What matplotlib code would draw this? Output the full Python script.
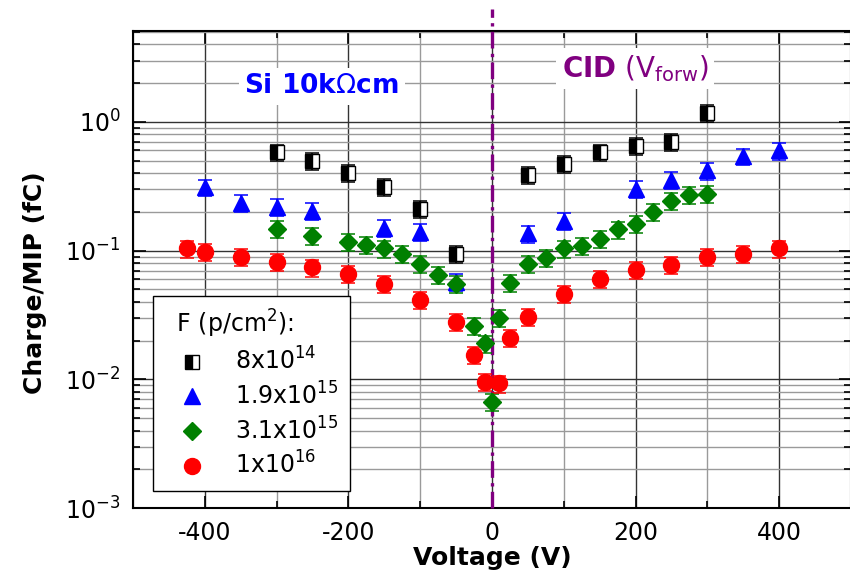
#!/usr/bin/env python3
"""Collected charge per MIP vs bias voltage, CID (forward) and reverse."""

import matplotlib
matplotlib.use("Agg")
import matplotlib.pyplot as plt
from matplotlib.ticker import LogLocator, MultipleLocator, NullFormatter

# 8x10^14 p/cm2
volt_8e14 = [-300, -250, -200, -150, -100, -50, 50, 100, 150, 200, 250, 300]
charge_8e14 = [0.58, 0.50, 0.40, 0.315, 0.21, 0.095, 0.39, 0.47, 0.58, 0.65, 0.70, 1.18]

# 1.9x10^15 p/cm2
volt_19e15 = [-400, -350, -300, -250, -150, -100, -50, 50, 100, 200, 250, 300, 350, 400]
charge_19e15 = [0.31, 0.236, 0.22, 0.205, 0.151, 0.14, 0.057, 0.136, 0.171, 0.30, 0.356,
                0.42, 0.54, 0.60]

# 3.1x10^15 p/cm2
volt_31e15 = [-300, -250, -200, -175, -150, -125, -100, -75, -50, -25, -10, 0, 10, 25,
              50, 75, 100, 125, 150, 175, 200, 225, 250, 275, 300]
charge_31e15 = [0.148, 0.131, 0.117, 0.111, 0.104, 0.095, 0.079, 0.065, 0.055, 0.026,
                0.019, 0.0067, 0.030, 0.056, 0.079, 0.088, 0.104, 0.109, 0.124, 0.146,
                0.162, 0.20, 0.245, 0.272, 0.275]

# 1x10^16 p/cm2
volt_1e16 = [-425, -400, -350, -300, -250, -200, -150, -100, -50, -25, -10, 10, 25, 50,
             100, 150, 200, 250, 300, 350, 400]
charge_1e16 = [0.104, 0.098, 0.090, 0.082, 0.074, 0.066, 0.0555, 0.0416, 0.028, 0.0156,
               0.0096, 0.0093, 0.021, 0.0307, 0.046, 0.0605, 0.071, 0.077, 0.090, 0.095,
               0.104]

labels = [r"8x10$^{14}$", r"1.9x10$^{15}$", r"3.1x10$^{15}$", r"1x10$^{16}$"]
rel_err = 0.15

plt.rcParams["font.family"] = ["DejaVu Sans"]
plt.rcParams["mathtext.fontset"] = "dejavusans"
plt.rcParams["axes.unicode_minus"] = False

PURPLE = "#800080"

fig = plt.figure(figsize=(8.5, 5.82), dpi=100)
ax = fig.add_axes([0.1565, 0.127, 0.8445, 0.82])

series = [
    (volt_8e14, charge_8e14, dict(marker="s", ms=9.5, mfc="black", mfcalt="white",
                                  mec="black", fillstyle="left", color="black")),
    (volt_19e15, charge_19e15, dict(marker="^", ms=11.5, mfc="#0000ff", mec="#0000ff",
                                    color="#0000ff")),
    (volt_31e15, charge_31e15, dict(marker="D", ms=9.5, mfc="#008000", mec="#008000",
                                    color="#008000")),
    (volt_1e16, charge_1e16, dict(marker="o", ms=11.5, mfc="#ff0000", mec="#ff0000",
                                  color="#ff0000")),
]

handles = []
for (v, q, style), lab in zip(series, labels):
    err = [c * rel_err for c in q]
    cont = ax.errorbar(v, q, yerr=err, linestyle="none", capsize=5, elinewidth=1.1,
                       capthick=1.1, label=lab, zorder=4, **style)
    handles.append(cont[0])

ax.axvline(0, ymin=0, ymax=1.045, color=PURPLE, lw=2.4, ls=(0, (5, 1.6, 1, 1.6)),
           clip_on=False, zorder=3)

ax.set_yscale("log")
ax.set_xlim(-500, 500)
ax.set_ylim(1e-3, 5.1)

ax.xaxis.set_major_locator(MultipleLocator(200))
ax.xaxis.set_minor_locator(MultipleLocator(100))
ax.yaxis.set_major_locator(LogLocator(base=10))
ax.yaxis.set_minor_locator(LogLocator(base=10, subs=range(2, 10)))
ax.yaxis.set_minor_formatter(NullFormatter())

ax.grid(True, which="major", color="#333333", lw=1.0, zorder=0)
ax.grid(True, which="minor", color="#9a9a9a", lw=1.0, zorder=0)
ax.set_axisbelow(True)

ax.tick_params(which="both", direction="in", top=True, right=True, width=1.2,
               labelsize=17, pad=9)
ax.tick_params(which="major", length=9)
ax.tick_params(which="minor", length=5)
for sp in ax.spines.values():
    sp.set_linewidth(1.5)

ax.set_xlabel("Voltage (V)", fontsize=18, fontweight="bold", labelpad=1)
ax.set_ylabel("Charge/MIP (fC)", fontsize=18, fontweight="bold")
ax.yaxis.set_label_coords(-0.12, 0.472)

ax.text(-237, 1.9, r"Si 10k$\Omega$cm", color="#0000ff", fontsize=19, fontweight="bold",
        ha="center", va="center", zorder=5,
        bbox=dict(facecolor="white", edgecolor="none", pad=4))
ax.text(199, 2.6, r"$\mathbf{CID}$ (V$_{\mathrm{forw}}$)", color=PURPLE, fontsize=20,
        ha="center", va="center", zorder=5,
        bbox=dict(facecolor="white", edgecolor="none", pad=4))

leg = ax.legend(handles, labels, title="\u2002F (p/cm$^2$):", loc="lower left",
                bbox_to_anchor=(0.028, 0.036), borderaxespad=0, fontsize=17,
                title_fontsize=17, fancybox=False, framealpha=1, edgecolor="black",
                handlelength=2.3, handletextpad=0.67, labelspacing=0.32,
                borderpad=0.5)
leg._legend_box.align = "left"
leg.get_frame().set_linewidth(1.0)
leg.set_zorder(6)
# widen the frame a little on the right, like the original
leg.get_frame().set_width(leg.get_frame().get_width() + 12)

fig.savefig("out.png", dpi=100)
